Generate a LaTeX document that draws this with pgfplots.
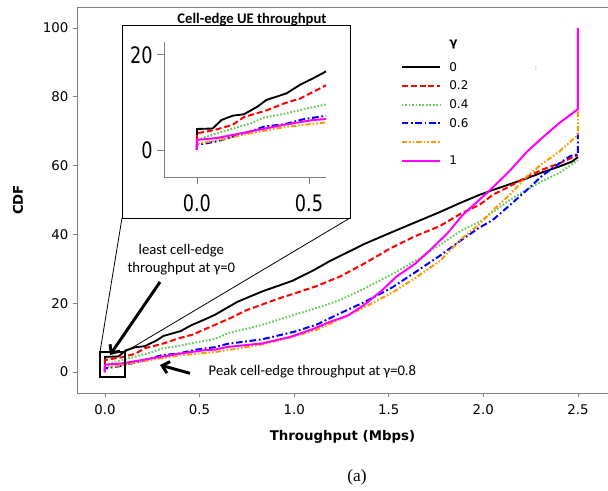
\documentclass[border=0pt]{standalone}
\usepackage{fontspec}
\setmainfont{DejaVu Sans}
\newfontfamily\calfont{Carlito}
\newfontfamily\serfont{Liberation Serif}
\newfontfamily\insetfont[FakeStretch=0.78]{DejaVu Sans}
\usepackage{pgfplots}
\pgfplotsset{compat=1.18}
\usepackage{pgfplotstable}
\usetikzlibrary{arrows.meta}

\definecolor{cgreen}{RGB}{110,200,100}
\definecolor{corange}{RGB}{255,153,0}
\definecolor{cmag}{RGB}{255,0,255}
\definecolor{axgray}{RGB}{128,128,128}

\pgfplotstableread{
x y
0 0
0 4.4
0.07 4.5
0.11 6.3
0.16 7.2
0.21 7.5
0.27 9.1
0.31 10.5
0.40 11.9
0.46 13.7
0.52 15.1
0.58 16.6
0.70 20.4
0.83 23.4
0.99 26.5
1.10 29.5
1.19 32.3
1.29 35.0
1.37 37.2
1.51 40.5
1.64 43.5
1.77 46.5
1.88 49.2
1.98 51.5
2.05 52.9
2.14 54.6
2.23 56.3
2.31 58.0
2.40 59.7
2.47 61.2
2.50 62.5
}\tblA

\pgfplotstableread{
x y
0 0
0 3.5
0.08 4.2
0.16 5.3
0.21 6.9
0.31 8.3
0.39 9.8
0.46 10.8
0.56 13.2
0.66 15.6
0.74 17.8
0.83 19.6
0.92 21.4
1.00 22.8
1.12 25.0
1.24 27.7
1.37 31.5
1.51 36.0
1.64 39.5
1.77 42.4
1.88 46.0
1.98 48.6
2.05 51.5
2.14 54.0
2.23 56.7
2.31 58.8
2.40 60.6
2.50 63.1
}\tblB

\pgfplotstableread{
x y
0 0
0 2.1
0.09 3.5
0.24 5.6
0.30 6.8
0.39 7.6
0.48 8.6
0.58 9.6
0.65 11.3
0.75 12.6
0.83 13.7
0.97 16.1
1.12 18.6
1.24 20.9
1.37 24.2
1.51 28.2
1.64 32.3
1.77 36.9
1.88 41.0
1.98 43.7
2.05 46.5
2.14 50.0
2.23 53.0
2.31 55.5
2.40 57.8
2.50 61.6
}\tblC

\pgfplotstableread{
x y
0 0
0 1.05
0.09 1.8
0.24 3.9
0.30 4.9
0.39 5.4
0.48 6.5
0.58 7.2
0.65 8.2
0.83 9.5
1.00 11.7
1.12 13.8
1.24 17.0
1.37 20.3
1.51 24.3
1.64 29.0
1.77 33.8
1.88 38.2
1.98 42.0
2.05 44.2
2.14 48.5
2.23 52.9
2.31 57.0
2.40 60.6
2.46 62.8
2.50 63.3
2.50 69.5
}\tblD

\pgfplotstableread{
x y
0 0
0 1.3
0.09 2.0
0.24 3.5
0.39 4.8
0.58 5.8
0.70 6.8
0.83 8.0
1.00 10.3
1.12 12.3
1.24 15.3
1.37 18.8
1.51 22.8
1.64 27.3
1.77 32.3
1.88 38.5
1.98 43.0
2.05 47.0
2.14 51.5
2.23 56.8
2.31 60.5
2.40 64.0
2.50 68.9
2.50 76.0
}\tblE

\pgfplotstableread{
x y
0 0
0 2.1
0.09 2.5
0.24 3.9
0.39 5.3
0.52 6.3
0.58 6.5
0.65 7.3
0.83 8.3
0.98 10.2
1.10 12.5
1.19 14.6
1.28 16.3
1.37 19.5
1.46 23.5
1.54 27.7
1.64 31.5
1.72 35.5
1.81 40.3
1.89 45.6
2.03 52.6
2.14 58.5
2.23 64.0
2.31 68.0
2.40 72.3
2.50 76.4
2.50 100
}\tblF

\pgfplotsset{
  s0/.style={black, line width=1.4pt},
  s2/.style={red, line width=1.5pt, dash pattern=on 4.5pt off 2.2pt},
  s4/.style={cgreen, line width=1.5pt, dash pattern=on 1.3pt off 1.3pt},
  s6/.style={blue, line width=1.5pt, dash pattern=on 5pt off 2pt on 1.3pt off 2pt},
  s8/.style={corange, line width=1.5pt, dash pattern=on 4pt off 1.5pt on 1.2pt off 1.5pt on 1.2pt off 1.5pt},
  s10/.style={cmag, line width=1.5pt},
}

\begin{document}
\begin{tikzpicture}
\path[use as bounding box] (0,0) rectangle (456pt,367.5pt);
\begin{axis}[
  at={(57.75pt,72.75pt)}, anchor=south west, scale only axis,
  width=398.25pt, height=289.5pt,
  xmin=-0.148, xmax=2.659, ymin=-6.1, ymax=106.1,
  axis lines*=left,
  axis line style={axgray, line width=0.6pt},
  tick style={axgray, line width=0.6pt}, tick align=outside, major tick length=3pt,
  xtick={0,0.5,1,1.5,2,2.5}, xticklabels={0.0,0.5,1.0,1.5,2.0,2.5},
  ytick={0,20,40,60,80,100}, yticklabels={0,20,40,60,80,100},
  tick label style={font=\fontsize{10}{12}\selectfont, black},
  xticklabel style={yshift=-2pt},
  xlabel={\textbf{Throughput (Mbps)}}, ylabel={\textbf{CDF}},
  label style={font=\fontsize{10}{12}\selectfont},
  xlabel style={at={(axis description cs:0.5,-0.114)}, anchor=center},
  ylabel style={at={(axis description cs:-0.111,0.5)}, anchor=center},
  legend style={at={(axis description cs:0.609,0.917)}, anchor=north west, draw=none, fill=none,
    font=\fontsize{9}{11}\selectfont, inner sep=0pt,
    nodes={text height=8pt, text depth=2pt, inner sep=2pt}, row sep=0pt,
    /tikz/every odd column/.append style={column sep=4pt}},
  legend cell align=left,
  legend image code/.code={\draw[#1] (0pt,0pt) -- (29pt,0pt);},
]
\addlegendimage{empty legend}\addlegendentry{\raisebox{4.5pt}{\textbf{γ}}}
\addplot[s0] table {\tblA}; \addlegendentry{0}
\addplot[s2] table {\tblB}; \addlegendentry{0.2}
\addplot[s4] table {\tblC}; \addlegendentry{0.4}
\addplot[s6] table {\tblD}; \addlegendentry{0.6}
\addplot[s8] table {\tblE}; \addlegendentry{}
\addplot[s10] table {\tblF}; \addlegendentry{1}
\end{axis}
\draw[axgray, line width=0.6pt] (57.75pt,362.25pt) -- (456pt,362.25pt);
\draw[black, line width=0.5pt, fill=white] (91.5pt,204pt) rectangle (262.5pt,348.75pt);
\draw[black, line width=0.6pt] (75pt,103.5pt) -- (91.5pt,204pt);
\draw[black, line width=0.6pt] (93.75pt,103.5pt) -- (262.5pt,204pt);
\draw[black, line width=1.5pt] (75pt,84.75pt) rectangle (93.75pt,103.5pt);
\begin{axis}[
  at={(123pt,234.75pt)}, anchor=south west, scale only axis,
  width=121.5pt, height=101.25pt,
  xmin=-0.147, xmax=0.576, ymin=-5.7, ymax=22.7,
  axis lines*=left,
  axis line style={axgray, line width=0.6pt},
  tick style={axgray, line width=0.6pt}, tick align=outside, major tick length=5pt,
  xtick={0,0.5}, xticklabels={0.0,0.5},
  ytick={0,20}, yticklabels={0,20},
  tick label style={font=\insetfont\fontsize{17}{18}\selectfont, black},
  xticklabel style={yshift=-5pt},
]
\addplot[s0] table {\tblA};
\addplot[s2] table {\tblB};
\addplot[s4] table {\tblC};
\addplot[s6] table {\tblD};
\addplot[s8] table {\tblE};
\addplot[s10] table {\tblF};
\end{axis}
\node[font=\calfont\bfseries\fontsize{11}{13}\selectfont] at (189pt,352.5pt) {Cell-edge UE throughput};
\node[font=\calfont\fontsize{11}{13.5}\selectfont, align=center] at (136pt,173pt) {least cell-edge\\throughput at γ=0};
\draw[black, line width=2.2pt, -{Straight Barb[length=5pt,width=9pt]}] (120pt,156pt) -- (82.5pt,101.25pt);
\draw[black, line width=2.2pt, -{Straight Barb[length=5pt,width=9pt]}] (142.5pt,87.5pt) -- (120pt,93.75pt);
\node[font=\calfont\fontsize{11}{13}\selectfont, anchor=west] at (153pt,88.5pt) {Peak cell-edge throughput at γ=0.8};
\node[font=\fontsize{5}{6}\selectfont, text={rgb,255:red,80;green,90;blue,120}] at (402pt,315.75pt) {:};
\node[font=\serfont\fontsize{13}{15}\selectfont] at (267.75pt,9.75pt) {(a)};
\end{tikzpicture}
\end{document}
